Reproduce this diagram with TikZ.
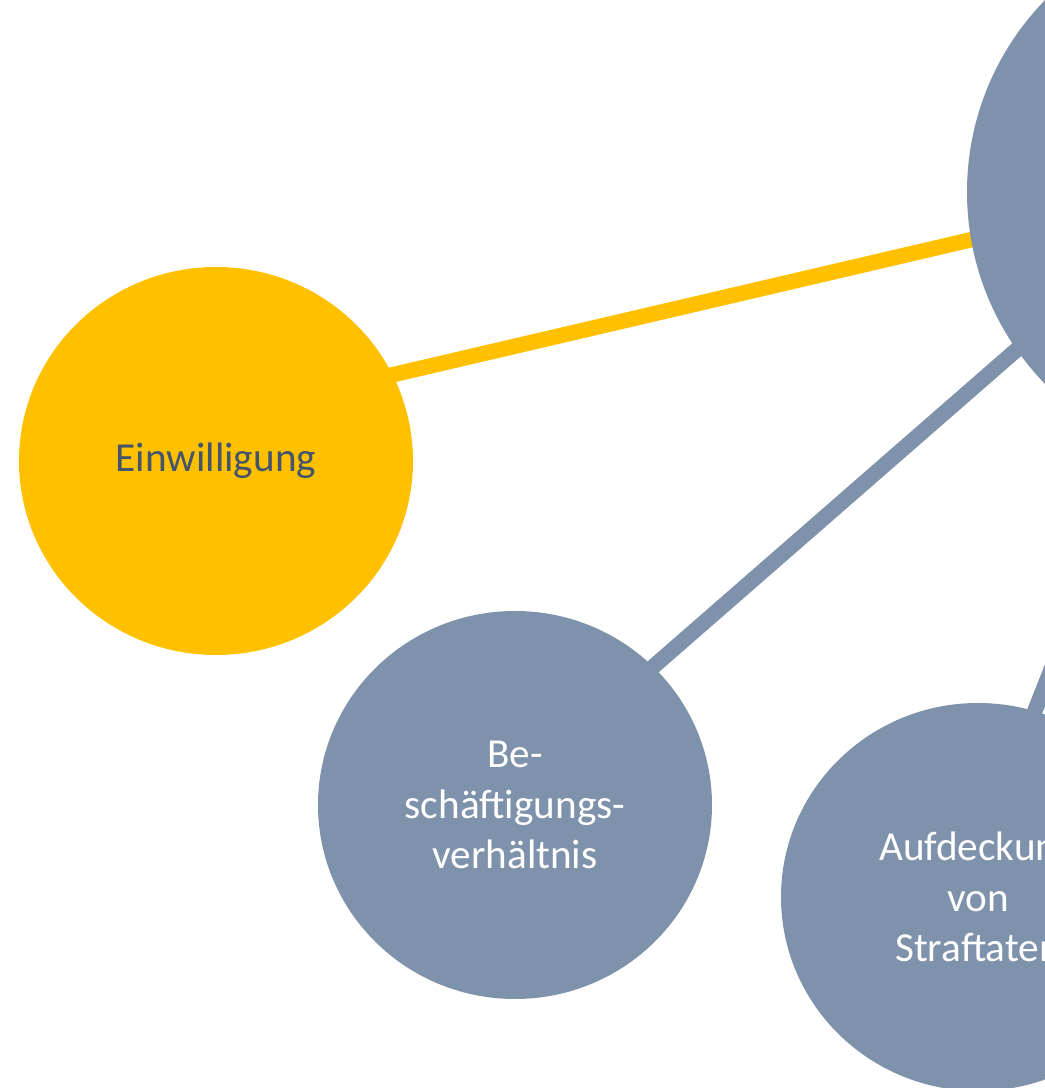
\documentclass[tikz,border=0pt]{standalone}
\usepackage{fontspec}
\setmainfont{Carlito}
\usepackage{tikz}
\usetikzlibrary{shapes.geometric,backgrounds}

\definecolor{gold}{HTML}{FFC000}
\definecolor{slate}{HTML}{7F92AB}
\definecolor{darkslate}{HTML}{44546A}

\begin{document}
\begin{tikzpicture}[x=0.5pt,y=0.5pt,
	topic/.style={ellipse,fill=slate,text=white,minimum width=197pt,minimum height=194pt,
		inner sep=0pt,align=center,font=\fontsize{20.6}{25.2}\selectfont},
	link/.style={line width=7.75pt,shorten <=-4pt,shorten >=-4pt}]
	
	\useasboundingbox (0,0) rectangle (1045,1088);
	\clip (0,0) rectangle (1045,1088);
	
	\node[topic,minimum width=275pt,minimum height=275pt] (centre) at (1242, 896) {};
	\node[topic,fill=gold,text=darkslate] (einw) at (216, 627) {Einwilligung};
	
	
	\node[topic] (besch) at (515, 283) {Be-\\schäftigungs-\\verhältnis};
	\node[topic] (aufd) at (978, 191) {Aufdeckung\\von\\Straftaten};
	
	
	\begin{scope}[on background layer]
	\path[link, draw=gold] (einw.26) -- (centre.190);
	\path[link, draw=slate] (besch.45) -- (centre.215);
	\path[link, draw=slate] (aufd.73) -- (centre.248);
	\end{scope}
	
\end{tikzpicture}
\end{document}
